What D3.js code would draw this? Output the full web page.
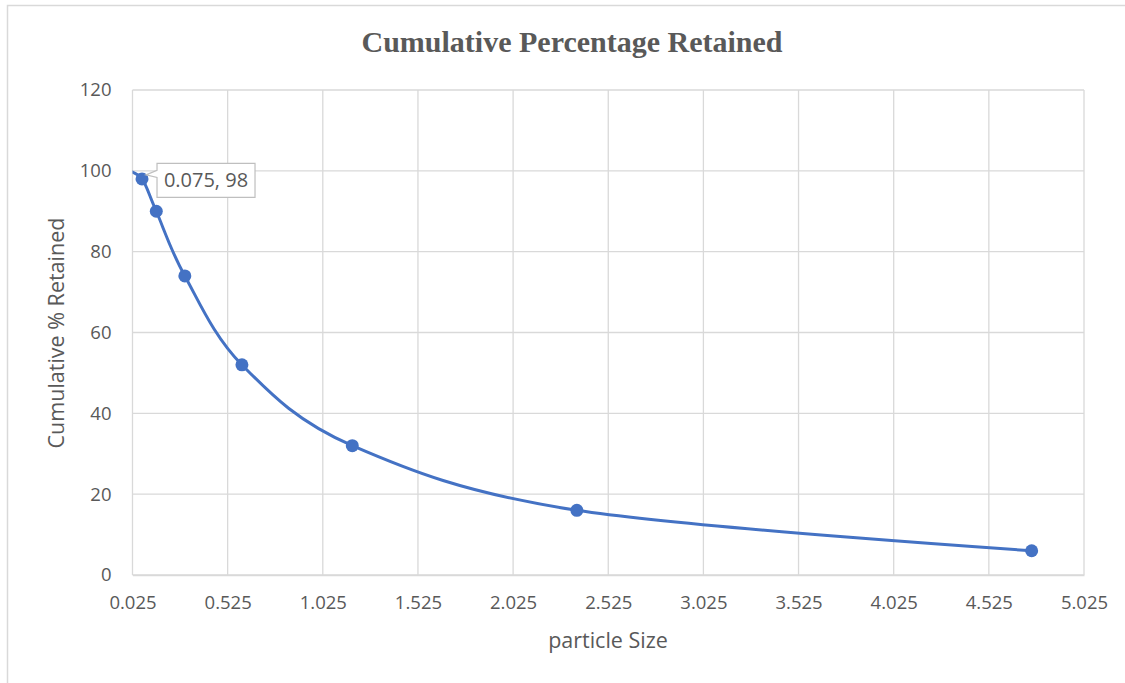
<!DOCTYPE html>
<html>
<head>
<meta charset="utf-8">
<script src="https://cdn.jsdelivr.net/npm/d3@7"></script>
<style>
  html, body { margin: 0; padding: 0; background: #fff; }
  svg { display: block; }
</style>
</head>
<body>
<svg id="chart" width="1125" height="683"></svg>
<script>
// Sieve analysis: cumulative percentage retained per particle size (mm)
const particleSize = [0, 0.075, 0.15, 0.3, 0.6, 1.18, 2.36, 4.75];
const cumRetained  = [100, 98, 90, 74, 52, 32, 16, 6];
const showMarker   = [false, true, true, true, true, true, true, true];
const xTicks = [0.025, 0.525, 1.025, 1.525, 2.025, 2.525, 3.025, 3.525, 4.025, 4.525, 5.025];
const yTicks = [0, 20, 40, 60, 80, 100, 120];
const labelIndex = 1; // point carrying the data callout

const svg = d3.select("#chart");
const W = 1125, H = 683;
const m = { left: 132.5, right: 1084, top: 90, bottom: 575 };
const textColor = "#595959";
const gridColor = "#d9d9d9";
const blue = "#4472C4";
const font = "'Open Sans', 'Liberation Sans', sans-serif";
const tickSize = 18.5;

// outer chart frame
svg.append("path")
  .attr("d", `M7.5,${H} L7.5,5.5 L${W},5.5`)
  .attr("fill", "none").attr("stroke", gridColor).attr("stroke-width", 1.5);

const x = d3.scaleLinear().domain([0.025, 5.025]).range([m.left, m.right]);
const y = d3.scaleLinear().domain([0, 120]).range([m.bottom, m.top]);

// gridlines
const grid = svg.append("g").attr("stroke", gridColor).attr("stroke-width", 1.3);
grid.selectAll(".vx").data(xTicks).join("line")
  .attr("x1", d => x(d)).attr("x2", d => x(d))
  .attr("y1", m.top).attr("y2", m.bottom);
grid.selectAll(".hy").data(yTicks).join("line")
  .attr("x1", m.left).attr("x2", m.right)
  .attr("y1", d => y(d)).attr("y2", d => y(d));

// axes (labels only, Excel-style)
const xAxis = svg.append("g").attr("transform", `translate(0,${m.bottom})`)
  .call(d3.axisBottom(x).tickValues(xTicks).tickFormat(d3.format(".3f")).tickSize(0).tickPadding(21));
xAxis.select(".domain").attr("stroke", gridColor).attr("stroke-width", 1.3);
xAxis.selectAll("text").attr("fill", textColor).attr("font-size", tickSize).attr("font-family", font);

const yAxis = svg.append("g").attr("transform", `translate(${m.left},0)`)
  .call(d3.axisLeft(y).tickValues(yTicks).tickSize(0).tickPadding(21));
yAxis.select(".domain").remove();
yAxis.selectAll("text").attr("fill", textColor).attr("font-size", tickSize).attr("font-family", font);

// clip the curve to the plot area
svg.append("clipPath").attr("id", "plotClip")
  .append("rect").attr("x", m.left).attr("y", m.top - 10)
  .attr("width", m.right - m.left).attr("height", m.bottom - m.top + 20);

const pts = particleSize.map((d, i) => ({ x: d, y: cumRetained[i], marker: showMarker[i] }));

const line = d3.line()
  .x(d => x(d.x)).y(d => y(d.y))
  .curve(d3.curveCatmullRom.alpha(0));

svg.append("path")
  .datum(pts)
  .attr("clip-path", "url(#plotClip)")
  .attr("d", line)
  .attr("fill", "none").attr("stroke", blue).attr("stroke-width", 3).attr("stroke-linecap", "round");

svg.append("g").selectAll("circle").data(pts.filter(d => d.marker)).join("circle")
  .attr("cx", d => x(d.x)).attr("cy", d => y(d.y)).attr("r", 6.5)
  .attr("fill", blue);

// data callout for one point
const lp = pts[labelIndex];
const px = x(lp.x), py = y(lp.y);
const bx = px + 15, by = py - 15.5, bw = 98, bh = 34;
svg.append("path")
  .attr("d", `M${bx},${by} L${bx + bw},${by} L${bx + bw},${by + bh} L${bx},${by + bh} L${bx},${by + 14} L${px + 4},${py - 4} L${bx},${by + 7} Z`)
  .attr("fill", "#fff").attr("stroke", "#bfbfbf").attr("stroke-width", 1.2);
svg.append("text")
  .attr("x", bx + bw / 2).attr("y", by + bh / 2 + 7)
  .attr("text-anchor", "middle")
  .attr("fill", textColor).attr("font-size", 20).attr("font-family", font)
  .text(`${lp.x}, ${lp.y}`);

// title and axis titles
svg.append("text")
  .attr("x", 572).attr("y", 52).attr("text-anchor", "middle")
  .attr("font-family", "'Liberation Serif', 'Times New Roman', serif")
  .attr("font-weight", "bold").attr("font-size", 30).attr("fill", textColor)
  .text("Cumulative Percentage Retained");

svg.append("text")
  .attr("x", 608).attr("y", 648).attr("text-anchor", "middle")
  .attr("font-family", font).attr("font-size", 21.5).attr("fill", textColor)
  .text("particle Size");

svg.append("text")
  .attr("transform", "translate(64,333) rotate(-90)")
  .attr("text-anchor", "middle")
  .attr("font-family", font).attr("font-size", 21.5).attr("fill", textColor)
  .text("Cumulative % Retained");
</script>
</body>
</html>
